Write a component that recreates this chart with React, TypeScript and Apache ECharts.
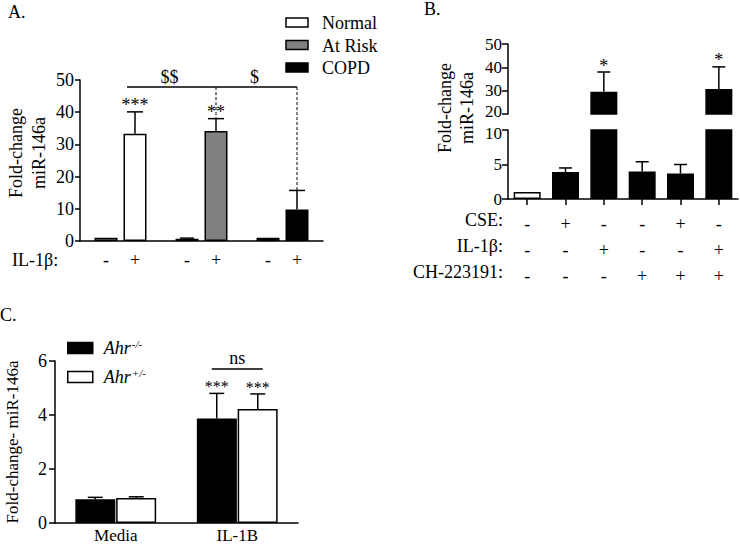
import React, { useEffect, useRef } from 'react';
import * as echarts from 'echarts';

const FONT = '"Liberation Serif", "Times New Roman", Times, serif';

// ---------- Panel A ----------
const A_GROUPS = ['Normal', 'At Risk', 'COPD'];
const A_COLORS = ['#ffffff', '#808080', '#000000'];
const A_IL1B = ['-', '+'];
const A_MINUS = [1.0, 0.7, 1.0];
const A_MINUS_ERR = [1.1, 0.9, 1.05];
const A_PLUS = [33.3, 34.2, 9.8];
const A_PLUS_ERR = [40.1, 38.0, 15.7];
const A_PLUS_STARS = ['***', '**', ''];
const A_MINUS_STARS = ['', '', ''];
const A_BRACKET_LEVEL = 47.8;
const A_BRACKET_LABELS = ['$$', '$'];

// ---------- Panel B ----------
const B_CONDITIONS = ['Control', 'CSE', 'IL-1β', 'CH', 'CSE+CH', 'IL-1β+CH'];
const B_VALUES = [1.0, 3.9, 29.5, 4.0, 3.7, 30.7];
const B_ERR = [1.0, 4.5, 38.0, 5.4, 5.0, 40.2];
const B_STARS = ['', '', '*', '', '', '*'];
const B_COLORS = ['#ffffff', '#000000', '#000000', '#000000', '#000000', '#000000'];
const B_CSE = ['-', '+', '-', '-', '+', '-'];
const B_IL1B = ['-', '-', '+', '-', '-', '+'];
const B_CH = ['-', '-', '-', '+', '+', '+'];
const B_ROWS = ['CSE:', 'IL-1β:', 'CH-223191:'];
const B_LOWER_MAX = 10;
const B_UPPER_MIN = 20;

// ---------- Panel C ----------
const C_CATS = ['Media', 'IL-1B'];
const C_NAMES = ['Ahr-/-', 'Ahr+/-'];
const C_KO = [0.88, 3.87];
const C_KO_ERR = [0.95, 4.8];
const C_HET = [0.93, 4.22];
const C_HET_ERR = [0.97, 4.78];
const C_STARS = ['', '***'];
const C_NS_LEVEL = 5.7;
const C_NS_LABEL = 'ns';

const Y_TITLE_AB = 'Fold-change\nmiR-146a';
const Y_TITLE_C = 'Fold-change- miR-146a';

const txt = (size: number, extra: any = {}) => ({
  fill: '#000',
  font: `${size}px ${FONT}`,
  align: 'center',
  verticalAlign: 'middle',
  ...extra,
});

function errorSeries(
  xi: number,
  yi: number,
  idx: number[],
  vals: number[],
  errs: number[],
  stars: string[],
  offset: number,
  cap: number,
  starFont: number,
  below?: string
) {
  return {
    type: 'custom',
    xAxisIndex: xi,
    yAxisIndex: yi,
    clip: false,
    silent: true,
    z: 10,
    data: idx.map((i) => [i, vals[i], errs[i]]),
    renderItem: (params: any, api: any) => {
      const i = idx[params.dataIndex];
      const c = api.value(0);
      const lo = api.coord([c, api.value(1)]);
      const hi = api.coord([c, api.value(2)]);
      const cx = lo[0] + offset;
      const children: any[] = [];
      if (hi[1] < lo[1] - 0.5) {
        children.push({
          type: 'line',
          shape: { x1: cx, y1: lo[1], x2: cx, y2: hi[1] },
          style: { stroke: '#000', lineWidth: 1.5 },
        });
        children.push({
          type: 'line',
          shape: { x1: cx - cap, y1: hi[1], x2: cx + cap, y2: hi[1] },
          style: { stroke: '#000', lineWidth: 1.5 },
        });
      }
      if (stars[i]) {
        children.push({
          type: 'text',
          x: cx,
          y: hi[1] - 10 + 0.2 * starFont,
          style: txt(starFont, { text: stars[i] }),
        });
      }
      if (below) {
        const base = api.coord([c, 0]);
        children.push({
          type: 'text',
          x: cx,
          y: base[1] + 19,
          style: txt(18, { text: below }),
        });
      }
      return { type: 'group', children };
    },
  };
}

const A_OFF = 14.5;
const C_OFF = 20.5;

export default function App() {
  const ref = useRef<HTMLDivElement>(null);

  useEffect(() => {
    if (!ref.current) return;
    const chart = echarts.init(ref.current, undefined, { renderer: 'svg' });

    const axisLine = { show: true, lineStyle: { color: '#000', width: 1.5 } };
    const axisTick = { show: true, length: 6, lineStyle: { color: '#000', width: 1.5 } };
    const labelStyle = (size: number, margin: number) => ({
      color: '#000',
      fontSize: size,
      fontFamily: FONT,
      margin,
    });
    const edgeRich = (pad: number[]) => ({
      e: { fontSize: 17, fontFamily: FONT, color: '#000', padding: pad },
    });

    const allIdxA = A_GROUPS.map((_, i) => i);
    const bIdx = B_VALUES.map((_, i) => i);
    const bLowerIdx = bIdx.filter((i) => B_ERR[i] <= B_LOWER_MAX);
    const bUpperIdx = bIdx.filter((i) => B_VALUES[i] >= B_UPPER_MIN);

    const option: any = {
      animation: false,
      backgroundColor: '#ffffff',
      textStyle: { fontFamily: FONT, color: '#000' },
      grid: [
        { left: 80, top: 80, width: 243, height: 161, outerBoundsMode: 'none' },
        { left: 508, top: 44, width: 230, height: 70, outerBoundsMode: 'none' },
        { left: 508, top: 130, width: 230, height: 69, outerBoundsMode: 'none' },
        { left: 55, top: 361, width: 243, height: 162, outerBoundsMode: 'none' },
      ],
      xAxis: [
        {
          gridIndex: 0,
          type: 'category',
          data: A_GROUPS,
          axisLine,
          axisTick: { show: false },
          axisLabel: { show: false },
          splitLine: { show: false },
        },
        {
          gridIndex: 1,
          type: 'category',
          data: B_CONDITIONS,
          show: false,
        },
        {
          gridIndex: 2,
          type: 'category',
          data: B_CONDITIONS,
          axisLine,
          axisTick: { ...axisTick, alignWithLabel: true },
          axisLabel: {
            ...labelStyle(18, 12),
            lineHeight: 26,
            interval: 0,
            formatter: (_v: string, i: number) => `${B_CSE[i]}\n${B_IL1B[i]}\n${B_CH[i]}`,
          },
          splitLine: { show: false },
        },
        {
          gridIndex: 3,
          type: 'category',
          data: C_CATS,
          axisLine,
          axisTick: { show: false },
          axisLabel: { ...labelStyle(17, 4) },
          splitLine: { show: false },
        },
      ],
      yAxis: [
        {
          gridIndex: 0,
          type: 'value',
          min: 0,
          max: 50,
          interval: 10,
          axisLine,
          axisTick: { ...axisTick, length: 5 },
          axisLabel: labelStyle(18, 6),
          splitLine: { show: false },
        },
        {
          gridIndex: 1,
          type: 'value',
          min: B_UPPER_MIN,
          max: 50,
          interval: 10,
          axisLine,
          axisTick,
          axisLabel: {
            ...labelStyle(17, 6),
            rich: edgeRich([0, 0, 6, 0]),
            formatter: (v: number) => (v === B_UPPER_MIN ? `{e|${v}}` : `${v}`),
          },
          splitLine: { show: false },
        },
        {
          gridIndex: 2,
          type: 'value',
          min: 0,
          max: B_LOWER_MAX,
          interval: 5,
          axisLine,
          axisTick,
          axisLabel: {
            ...labelStyle(17, 6),
            rich: edgeRich([6, 0, 0, 0]),
            formatter: (v: number) => (v === B_LOWER_MAX ? `{e|${v}}` : `${v}`),
          },
          splitLine: { show: false },
        },
        {
          gridIndex: 3,
          type: 'value',
          min: 0,
          max: 6,
          interval: 2,
          axisLine,
          axisTick,
          axisLabel: labelStyle(18, 8),
          splitLine: { show: false },
          name: Y_TITLE_C,
          nameLocation: 'middle',
          nameRotate: 90,
          nameGap: 34,
          nameMoveOverlap: false,
          nameTextStyle: { fontSize: 17, fontFamily: FONT, color: '#000' },
        },
      ],
      legend: {
        show: true,
        orient: 'vertical',
        left: 62,
        top: 333,
        itemWidth: 25,
        itemHeight: 11,
        itemGap: 8,
        icon: 'rect',
        data: [
          { name: C_NAMES[0], itemStyle: { color: '#000', borderColor: '#000', borderWidth: 1.5 } },
          { name: C_NAMES[1], itemStyle: { color: '#fff', borderColor: '#000', borderWidth: 1.5 } },
        ],
        formatter: (name: string) => `{i|Ahr}{s|${name.slice(3)}}`,
        textStyle: {
          padding: [0, 0, 0, 6],
          rich: {
            i: { fontFamily: FONT, fontStyle: 'italic', fontSize: 18, color: '#000', lineHeight: 20 },
            s: {
              fontFamily: FONT,
              fontStyle: 'italic',
              fontSize: 11,
              color: '#000',
              verticalAlign: 'top',
              lineHeight: 20,
              padding: [0, 0, 10, 1],
            },
          },
        },
      },
      series: [
        // Panel A bars
        {
          name: 'IL-1β -',
          type: 'bar',
          xAxisIndex: 0,
          yAxisIndex: 0,
          barWidth: 23,
          barGap: '26%',
          data: A_MINUS.map((v, i) => ({
            value: v,
            itemStyle: { color: A_COLORS[i], borderColor: '#000', borderWidth: 1.5 },
          })),
        },
        {
          name: 'IL-1β +',
          type: 'bar',
          xAxisIndex: 0,
          yAxisIndex: 0,
          barWidth: 23,
          barGap: '26%',
          data: A_PLUS.map((v, i) => ({
            value: v,
            itemStyle: { color: A_COLORS[i], borderColor: '#000', borderWidth: 1.5 },
          })),
        },
        errorSeries(0, 0, allIdxA, A_MINUS, A_MINUS_ERR, A_MINUS_STARS, -A_OFF, 7, 18, A_IL1B[0]),
        errorSeries(0, 0, allIdxA, A_PLUS, A_PLUS_ERR, A_PLUS_STARS, A_OFF, 8, 18, A_IL1B[1]),
        {
          type: 'custom',
          xAxisIndex: 0,
          yAxisIndex: 0,
          clip: false,
          silent: true,
          z: 11,
          data: [[0, A_BRACKET_LEVEL]],
          renderItem: (_p: any, api: any) => {
            const lvl = api.value(1);
            const pN = api.coord([0, lvl]);
            const pR = api.coord([1, lvl]);
            const pC = api.coord([2, lvl]);
            const xN = pN[0] + A_OFF;
            const xR = pR[0] + A_OFF;
            const xC = pC[0] + A_OFF;
            const y = pN[1];
            const yR = api.coord([1, A_PLUS_ERR[1]])[1];
            const yC = api.coord([2, A_PLUS_ERR[2]])[1];
            return {
              type: 'group',
              children: [
                { type: 'line', shape: { x1: xN - 8, y1: y, x2: xC, y2: y }, style: { stroke: '#000', lineWidth: 1.5 } },
                { type: 'line', shape: { x1: xR, y1: y, x2: xR, y2: yR }, style: { stroke: '#000', lineWidth: 1, lineDash: [3, 2] } },
                { type: 'line', shape: { x1: xC, y1: y, x2: xC, y2: yC }, style: { stroke: '#000', lineWidth: 1, lineDash: [3, 2] } },
                { type: 'text', x: (xN + xR) / 2 - 6, y: y - 10, style: txt(18, { text: A_BRACKET_LABELS[0] }) },
                { type: 'text', x: (xR + xC) / 2 - 2, y: y - 10, style: txt(18, { text: A_BRACKET_LABELS[1] }) },
              ],
            };
          },
        },
        // Panel B bars (upper and lower segments of broken axis)
        {
          type: 'bar',
          xAxisIndex: 1,
          yAxisIndex: 1,
          barWidth: 27,
          clip: true,
          data: B_VALUES.map((v, i) => ({
            value: v,
            itemStyle: { color: B_COLORS[i], borderColor: '#000', borderWidth: 1.5 },
          })),
        },
        {
          type: 'bar',
          xAxisIndex: 2,
          yAxisIndex: 2,
          barWidth: 27,
          clip: true,
          data: B_VALUES.map((v, i) => ({
            value: v,
            itemStyle: { color: B_COLORS[i], borderColor: '#000', borderWidth: 1.5 },
          })),
        },
        errorSeries(2, 2, bLowerIdx, B_VALUES, B_ERR, B_STARS, 0, 6.5, 18),
        errorSeries(1, 1, bUpperIdx, B_VALUES, B_ERR, B_STARS, 0, 6.5, 18),
        // Panel C bars
        {
          name: C_NAMES[0],
          type: 'bar',
          xAxisIndex: 3,
          yAxisIndex: 3,
          barWidth: 40,
          barGap: '2%',
          itemStyle: { color: '#000', borderColor: '#000', borderWidth: 1.5 },
          data: C_KO,
        },
        {
          name: C_NAMES[1],
          type: 'bar',
          xAxisIndex: 3,
          yAxisIndex: 3,
          barWidth: 40,
          barGap: '2%',
          itemStyle: { color: '#fff', borderColor: '#000', borderWidth: 1.5 },
          data: C_HET,
        },
        errorSeries(3, 3, [0, 1], C_KO, C_KO_ERR, C_STARS, -C_OFF, 7.5, 16),
        errorSeries(3, 3, [0, 1], C_HET, C_HET_ERR, C_STARS, C_OFF, 7.5, 16),
        {
          type: 'custom',
          xAxisIndex: 3,
          yAxisIndex: 3,
          clip: false,
          silent: true,
          z: 11,
          data: [[1, C_NS_LEVEL]],
          renderItem: (_p: any, api: any) => {
            const p = api.coord([api.value(0), api.value(1)]);
            const x1 = p[0] - C_OFF - 5;
            const x2 = p[0] + C_OFF + 5;
            return {
              type: 'group',
              children: [
                { type: 'line', shape: { x1, y1: p[1], x2, y2: p[1] }, style: { stroke: '#000', lineWidth: 1.5 } },
                { type: 'text', x: (x1 + x2) / 2, y: p[1] - 11, style: txt(18, { text: C_NS_LABEL }) },
              ],
            };
          },
        },
      ],
      graphic: [
        // panel letters
        { type: 'text', left: 8, top: 3, style: txt(18, { text: 'A.', align: 'left', verticalAlign: 'top' }) },
        { type: 'text', left: 424, top: 0, style: txt(18, { text: 'B.', align: 'left', verticalAlign: 'top' }) },
        { type: 'text', left: 0, top: 306, style: txt(18, { text: 'C.', align: 'left', verticalAlign: 'top' }) },
        // panel A legend
        ...A_GROUPS.flatMap((g, i) => [
          {
            type: 'rect',
            shape: { x: 286, y: 18 + i * 22.5, width: 22, height: 9 },
            style: { fill: A_COLORS[i], stroke: '#000', lineWidth: 1.5 },
          },
          { type: 'text', x: 322, y: 23 + i * 22.5, style: txt(18, { text: g, align: 'left' }) },
        ]),
        // panel A row label
        { type: 'text', x: 12, y: 260, style: txt(18, { text: 'IL-1β:', align: 'left' }) },
        // panel A y title
        {
          type: 'text',
          x: 27,
          y: 153,
          rotation: Math.PI / 2,
          style: txt(18, { text: Y_TITLE_AB, lineHeight: 23 }),
        },
        // panel B row labels
        ...B_ROWS.map((r, i) => ({
          type: 'text',
          x: 503,
          y: 220 + i * 26,
          style: txt(18, { text: r, align: 'right' }),
        })),
        // panel B y title
        {
          type: 'text',
          x: 456,
          y: 108,
          rotation: Math.PI / 2,
          style: txt(18, { text: Y_TITLE_AB, lineHeight: 22 }),
        },
      ],
    };

    chart.setOption(option);
    return () => chart.dispose();
  }, []);

  return (
    <div
      ref={ref}
      style={{ position: 'absolute', left: 0, top: 0, width: 740, height: 548, background: '#fff' }}
    />
  );
}
